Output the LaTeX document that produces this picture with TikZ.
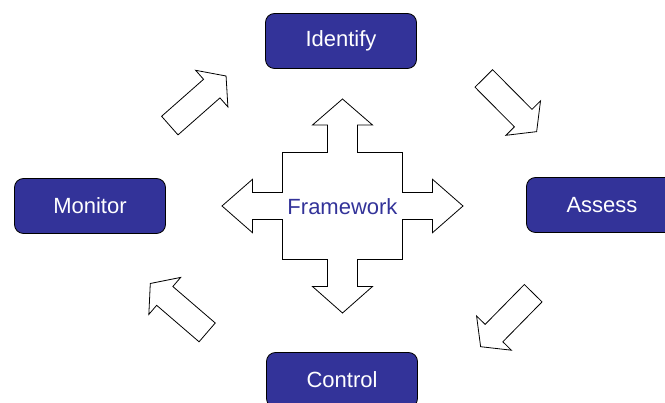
\documentclass[tikz,border=0pt]{standalone}
\usepackage{fontspec}
\setmainfont{Liberation Sans}
\usetikzlibrary{shapes.arrows}
\definecolor{stageblue}{RGB}{51,51,153}
\begin{document}
\begin{tikzpicture}[x=1pt, y=-1pt, line join=miter,
  stage node/.style={rectangle, rounded corners=9pt, draw=black, line width=0.8pt, fill=stageblue,
    text=white, minimum width=151pt, minimum height=55pt, font=\fontsize{22}{26}\selectfont},
  cycle arrow/.style={single arrow, draw=black, line width=0.8pt, fill=white, inner xsep=0pt,
    inner ysep=12pt, minimum height=75pt, single arrow head extend=12pt, single arrow tip angle=104}]
\useasboundingbox (0,0) rectangle (665,403);
% the four stages
\node[stage node] (identify) at (341,41) {Identify};
\node[stage node] (assess) at (602,205) {Assess};
\node[stage node] (control) at (342,380) {Control};
\node[stage node] (monitor) at (90,206) {Monitor};
% arrows going round the cycle
\node[cycle arrow, rotate=41.4] (monid) at (194.3,104) {};
\node[cycle arrow, rotate=-45.2] (idass) at (506.8,101.6) {};
\node[cycle arrow, rotate=-134.5] (asscon) at (510.3,316.5) {};
\node[cycle arrow, rotate=139.3] (conmon) at (182.4,311.1) {};
% four-way arrow in the middle
\begin{scope}[shift={(342.5,206)}]
\draw[line width=0.8pt] (0,-107) -- (30,-81) -- (15,-81) -- (15,-53.5) -- (60,-53.5) -- (60,-13.5)
  -- (90,-13.5) -- (90,-26.7) -- (120.5,0) -- (90,26.7) -- (90,13.5) -- (60,13.5) -- (60,53.5)
  -- (15,53.5) -- (15,80.5) -- (30,80.5) -- (0,107) -- (-30,80.5) -- (-15,80.5) -- (-15,53.5)
  -- (-60,53.5) -- (-60,13.5) -- (-90,13.5) -- (-90,26.7) -- (-120.5,0) -- (-90,-26.7)
  -- (-90,-13.5) -- (-60,-13.5) -- (-60,-53.5) -- (-15,-53.5) -- (-15,-81) -- (-30,-81) -- cycle;
\node[text=stageblue, font=\fontsize{22}{26}\selectfont] (framework) at (0,1) {Framework};
\end{scope}
\end{tikzpicture}
\end{document}
